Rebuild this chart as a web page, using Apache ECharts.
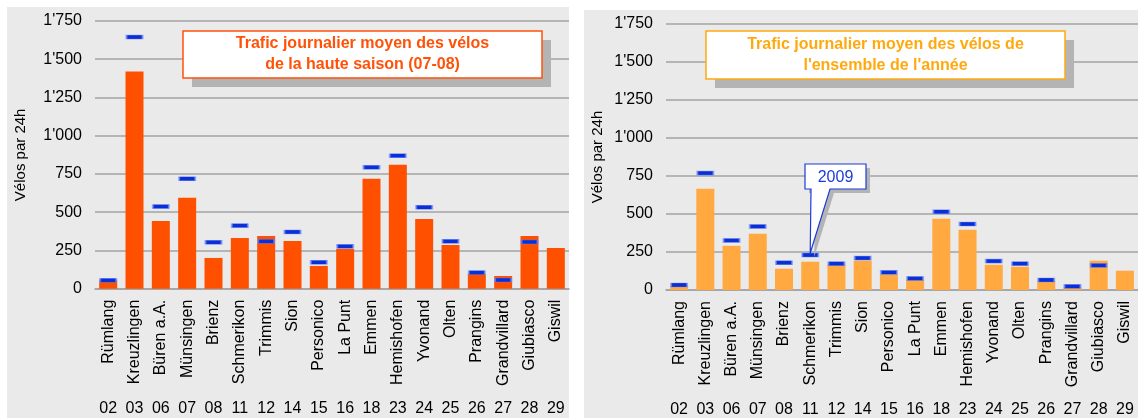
<!DOCTYPE html>
<html>
<head>
<meta charset="utf-8">
<script src="https://cdn.jsdelivr.net/npm/echarts@6/dist/echarts.min.js"></script>
<style>
  html, body { margin: 0; padding: 0; background: #fff; }
  #main { width: 1138px; height: 418px; }
</style>
</head>
<body>
<div id="main"></div>
<script>
// Stations et codes
var stations = ['Rümlang', 'Kreuzlingen', 'Büren a.A.', 'Münsingen', 'Brienz', 'Schmerikon', 'Trimmis', 'Sion',
  'Personico', 'La Punt', 'Emmen', 'Hemishofen', 'Yvonand', 'Olten', 'Prangins', 'Grandvillard', 'Giubiasco', 'Giswil'];
var codes = ['02', '03', '06', '07', '08', '11', '12', '14', '15', '16', '18', '23', '24', '25', '26', '27', '28', '29'];

// haute saison (07-08)
var hauteSaison = [60, 1420, 443, 594, 201, 332, 345, 312, 149, 260, 718, 810, 456, 286, 96, 83, 345, 266];
var hauteSaison2009 = [55, 1645, 537, 718, 304, 412, 310, 371, 173, 277, 794, 869, 533, 310, 105, 57, 306, '-'];

// ensemble de l'année
var annee = [30, 666, 291, 370, 140, 186, 168, 193, 103, 68, 468, 396, 166, 153, 58, 18, 193, 127];
var annee2009 = [33, 769, 326, 418, 179, 230, 173, 210, 116, 76, 514, 434, 190, 173, 66, 24, 162, '-'];

var FONT = 'Liberation Sans, Arial, sans-serif';
var GRIDLINE = '#a3a3a3';

function fmt(v) {
  if (v >= 1000) {
    return Math.floor(v / 1000) + "'" + String(v % 1000).padStart(3, '0');
  }
  return String(v);
}

function catAxes(gridIndex) {
  return [{
    type: 'category',
    gridIndex: gridIndex,
    data: stations,
    axisLine: { lineStyle: { color: GRIDLINE, width: 1.5 } },
    axisTick: { show: false },
    axisLabel: { rotate: 90, fontSize: 16, color: '#000', fontFamily: FONT, margin: 11, interval: 0 }
  }, {
    type: 'category',
    gridIndex: gridIndex,
    position: 'bottom',
    offset: 104,
    data: codes,
    axisLine: { show: false },
    axisTick: { show: false },
    axisLabel: { fontSize: 16, color: '#000', fontFamily: FONT, margin: 8, interval: 0 }
  }];
}

function valAxis(gridIndex, gap) {
  return {
    type: 'value',
    gridIndex: gridIndex,
    min: 0,
    max: 1750,
    interval: 250,
    name: 'Vélos par 24h',
    nameLocation: 'middle',
    nameGap: gap,
    nameTextStyle: { fontSize: 15, color: '#000', fontFamily: FONT },
    axisLine: { show: false },
    axisTick: { show: false },
    axisLabel: { fontSize: 16, color: '#000', fontFamily: FONT, margin: 13, formatter: fmt },
    splitLine: { lineStyle: { color: GRIDLINE, width: 1.5 } }
  };
}

function marker(xIdx, yIdx, data) {
  return {
    type: 'scatter',
    xAxisIndex: xIdx,
    yAxisIndex: yIdx,
    data: data,
    symbol: 'rect',
    symbolSize: [16, 4],
    itemStyle: { color: '#0a2fd6', borderColor: 'rgba(110,140,255,0.7)', borderWidth: 1, opacity: 1 },
    z: 5,
    silent: true
  };
}

function titleBox(x, y, w, h, color, lines) {
  return {
    type: 'group',
    children: [
      { type: 'rect', shape: { x: x + 9, y: y + 9, width: w, height: h }, style: { fill: '#b4b4b4' }, z: 10 },
      { type: 'rect', shape: { x: x, y: y, width: w, height: h }, style: { fill: '#fff', stroke: color, lineWidth: 1.5 }, z: 11 },
      {
        type: 'text', x: x + w / 2, y: y + h / 2, z: 12,
        style: {
          text: lines.join('\n'), fill: color, font: 'bold 16px ' + FONT,
          align: 'center', verticalAlign: 'middle', lineHeight: 21
        }
      }
    ]
  };
}

var chart = echarts.init(document.getElementById('main'));

var xAxes = catAxes(0).concat(catAxes(1));

var baseGraphics = [
  { type: 'rect', shape: { x: 7, y: 7, width: 562, height: 411 }, style: { fill: '#eaeaea' }, z: -10 },
  { type: 'rect', shape: { x: 584, y: 10, width: 554, height: 408 }, style: { fill: '#eaeaea' }, z: -10 },
  titleBox(183, 31, 359, 47, '#ff5209', ['Trafic journalier moyen des vélos', 'de la haute saison (07-08)']),
  titleBox(706, 31, 359, 48, '#ffa90f', ["Trafic journalier moyen des vélos de", "l'ensemble de l'année"])
];

var option = {
  animation: false,
  backgroundColor: '#fff',
  grid: [
    { left: 95, width: 474, top: 21, height: 267.7 },
    { left: 666, width: 478, top: 24, height: 266.3 }
  ],
  xAxis: xAxes,
  yAxis: [valAxis(0, 67), valAxis(1, 61)],
  series: [
    {
      type: 'bar', xAxisIndex: 0, yAxisIndex: 0, data: hauteSaison, barWidth: 18,
      itemStyle: { color: '#ff5000' }, silent: true
    },
    marker(0, 0, hauteSaison2009),
    {
      type: 'bar', xAxisIndex: 2, yAxisIndex: 1, data: annee, barWidth: 18,
      itemStyle: { color: '#ffa940' }, silent: true
    },
    marker(2, 1, annee2009)
  ]
};

chart.setOption(option);

// bulle "2009" pointant sur le repère de Schmerikon
var tip = chart.convertToPixel({ xAxisIndex: 2, yAxisIndex: 1 }, [5, annee2009[5]]);
var bx = 805, by = 164, bw = 61, bh = 25;
function bubble(dx, dy) {
  return [
    [bx + dx, by + dy], [bx + bw + dx, by + dy], [bx + bw + dx, by + bh + dy],
    [830 + dx, by + bh + dy], [tip[0] + dx, tip[1] - 2 + dy], [811 + dx, by + bh + dy],
    [bx + dx, by + bh + dy]
  ];
}
var callout = [
  { type: 'polygon', shape: { points: bubble(4, 4) }, style: { fill: '#b4b4b4' }, z: 20 },
  { type: 'polygon', shape: { points: bubble(0, 0) }, style: { fill: '#fff', stroke: '#1b3bd8', lineWidth: 1.2 }, z: 21 },
  {
    type: 'text', x: bx + bw / 2, y: by + bh / 2 + 1, z: 22,
    style: { text: '2009', fill: '#1b3bd8', font: '16px ' + FONT, align: 'center', verticalAlign: 'middle' }
  }
];
chart.setOption({ graphic: baseGraphics.concat(callout) });
</script>
</body>
</html>
